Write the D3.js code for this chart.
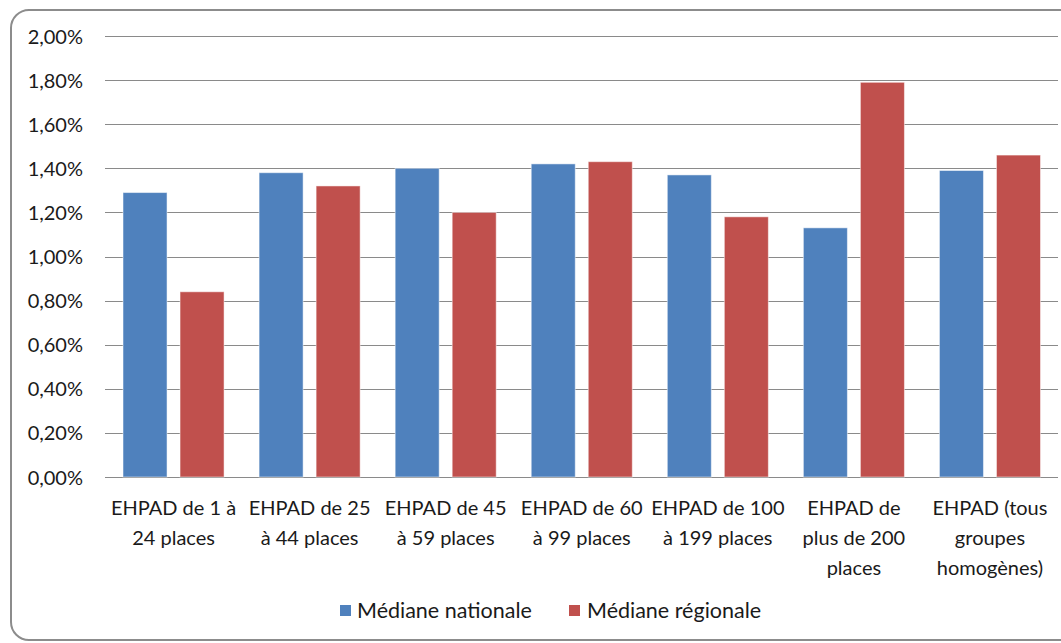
<!DOCTYPE html>
<html><head><meta charset="utf-8">
<script src="https://cdn.jsdelivr.net/npm/d3@7"></script>
<style>body{margin:0;background:#fff}svg{display:block}text{font-family:Lato,"Open Sans",sans-serif;fill:#1a1a1a}</style>
</head><body>
<svg id="c" width="1061" height="643"></svg>
<script>
const categories = [
  ["EHPAD de 1 à","24 places"],
  ["EHPAD de 25","à 44 places"],
  ["EHPAD de 45","à 59 places"],
  ["EHPAD de 60","à 99 places"],
  ["EHPAD de 100","à 199 places"],
  ["EHPAD de","plus de 200","places"],
  ["EHPAD (tous","groupes","homogènes)"]
];
const seriesNames = ["Médiane nationale","Médiane régionale"];
const nationale = [1.29,1.38,1.40,1.42,1.37,1.13,1.39];
const regionale = [0.84,1.32,1.20,1.43,1.18,1.79,1.46];
const yTicks = [0,0.2,0.4,0.6,0.8,1.0,1.2,1.4,1.6,1.8,2.0];
const colors = ["#4F81BD","#C0504D"];

const svg = d3.select("#c");
const FS = 20;
// outer rounded border
svg.append("rect").attr("x",11).attr("y",10).attr("width",1080).attr("height",630)
  .attr("rx",18).attr("fill","none").attr("stroke","#8c8c8c").attr("stroke-width",2);

const x0 = d3.scaleBand().domain(d3.range(categories.length)).range([105.5,1058]).paddingInner(0).paddingOuter(0);
const x1 = d3.scaleBand().domain([0,1]).range([0,x0.bandwidth()]).paddingInner(0.228).paddingOuter(0.307);
const y = d3.scaleLinear().domain([0,2]).range([477,36]);

// gridlines
svg.append("g").selectAll("line").data(yTicks).join("line")
  .attr("x1",105).attr("x2",1058).attr("y1",d=>Math.round(y(d))+0.5).attr("y2",d=>Math.round(y(d))+0.5)
  .attr("stroke","#8a8a8a").attr("stroke-width",1.2);

// y axis labels
const yAxis = d3.axisLeft(y).tickValues(yTicks).tickSize(0).tickPadding(0)
  .tickFormat(d=>d3.format(".2f")(d).replace(".",",")+"%");
const ga = svg.append("g").attr("transform","translate(83,0)").call(yAxis);
ga.select(".domain").remove();
ga.selectAll("text").attr("font-size",FS).attr("font-family","Lato").attr("fill","#1a1a1a").attr("dy","0.35em");

// bars
const data = categories.map((c,i)=>[nationale[i],regionale[i]]);
const g = svg.append("g");
data.forEach((vals,i)=>{
  vals.forEach((v,s)=>{
    g.append("rect").attr("x",x0(i)+x1(s)).attr("y",y(v)).attr("width",x1.bandwidth())
      .attr("height",y(0)-y(v)).attr("fill",colors[s]).attr("stroke","#fff").attr("stroke-opacity",0.5).attr("stroke-width",1);
  });
});

// x labels
const xl = svg.append("g");
categories.forEach((lines,i)=>{
  const t = xl.append("text").attr("text-anchor","middle").attr("font-size",FS)
    .attr("x",x0(i)+x0.bandwidth()/2);
  lines.forEach((l,j)=>t.append("tspan").attr("x",x0(i)+x0.bandwidth()/2).attr("y",515+j*30).text(l));
});

// legend
const leg = [{x:340,tx:357},{x:569,tx:587}];
seriesNames.forEach((n,s)=>{
  svg.append("rect").attr("x",leg[s].x).attr("y",605).attr("width",11).attr("height",11).attr("fill",colors[s]);
  svg.append("text").attr("x",leg[s].tx).attr("y",618).attr("font-size",21.5).text(n);
});
</script>
</body></html>
